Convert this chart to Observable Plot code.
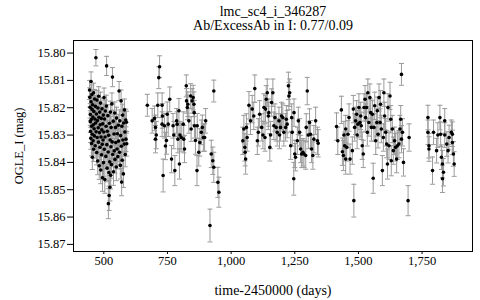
<!DOCTYPE html>
<html>
<head>
<meta charset="utf-8">
<script src="https://cdn.jsdelivr.net/npm/d3@7"></script>
<script src="https://cdn.jsdelivr.net/npm/@observablehq/plot@0.6"></script>
<style>
  html, body { margin: 0; padding: 0; background: white; }
</style>
</head>
<body>
<div id="chart"></div>
<script>
// Observations: [time-2450000, OGLE_I mag, error]
const season1 = [
[444,15.8135,.0035],[445,15.8162,.0035],[446,15.8198,.004],[447,15.8225,.004],[447,15.8251,.004],[448,15.8287,.004],[449,15.8312,.004],[450,15.8104,.0035],[450,15.8178,.004],[451,15.8243,.004],[452,15.8268,.004],[452,15.8331,.0045],[453,15.8152,.0035],[454,15.8206,.004],[455,15.8297,.004],[455,15.8381,.0045],[456,15.8189,.004],[457,15.8234,.004],[458,15.8321,.0045],[459,15.8262,.004],[460,15.8145,.0035],[460,15.8352,.0045],
[461,15.8214,.004],[462,15.8277,.004],[463,15.8303,.004],[464,15.8168,.0035],[465,15.8241,.004],[466,15.8339,.0045],[467,15.8195,.004],[468,15.8256,.004],[469,15.8017,.003],[470,15.8288,.004],[471,15.8223,.004],[472,15.8364,.0045],[473,15.8172,.0035],[474,15.8309,.004],[475,15.8247,.004],[476,15.8395,.005],[477,15.8201,.004],[478,15.8273,.004],[479,15.8326,.0045],[480,15.8158,.0035],
[481,15.8235,.004],[482,15.8412,.005],[483,15.8291,.004],[484,15.8216,.004],[485,15.8345,.0045],[486,15.8262,.004],[487,15.8183,.004],[488,15.8428,.005],[489,15.8307,.004],[490,15.8239,.004],[491,15.8372,.0045],[492,15.8281,.004],[493,15.8204,.004],[494,15.8334,.0045],[495,15.8456,.005],[496,15.8259,.004],[497,15.8318,.0045],[498,15.8227,.004],[499,15.8401,.005],[500,15.8289,.004],[501,15.8163,.0035],[502,15.8352,.0045],[503,15.8241,.004],[504,15.8463,.005],[505,15.8307,.004],
[506,15.8212,.004],[508,15.8378,.0045],[509,15.8268,.004],[510,15.8194,.004],[511,15.8047,.0035],[512,15.8335,.0045],[513,15.8421,.005],[514,15.8286,.004],[516,15.8229,.004],[517,15.8362,.0045],[518,15.8551,.0055],[519,15.8301,.004],[520,15.8437,.005],[521,15.8521,.0055],[522,15.8257,.004],[523,15.8398,.005],[524,15.8491,.005],[525,15.8318,.0045],[526,15.8216,.004],[527,15.8447,.005],[528,15.8343,.0045],[529,15.8272,.004],[530,15.8408,.005],
[532,15.8186,.004],[533,15.8325,.0045],[534,15.8088,.0035],[535,15.8371,.0045],[537,15.8249,.004],[538,15.8434,.005],[540,15.8296,.004],[541,15.8358,.0045],[543,15.8219,.004],[544,15.8389,.005],[546,15.8272,.004],[547,15.8327,.0045],[549,15.8417,.005],[550,15.8238,.004],[552,15.8351,.0045],[553,15.8295,.004],[555,15.8379,.0045],[557,15.8264,.004],[558,15.8322,.0045],[560,15.8139,.0035],
[562,15.8363,.0045],[563,15.8248,.004],[565,15.8411,.005],[566,15.8302,.004],[568,15.8175,.004],[569,15.8341,.0045],[570,15.8472,.005],[571,15.8268,.004],[572,15.8392,.005],[574,15.8227,.004],[575,15.8318,.0045],[577,15.8442,.005],[578,15.8256,.004],[580,15.8333,.0045],[581,15.8208,.004],[583,15.8289,.004],[584,15.8371,.0045],[586,15.8245,.004],[587,15.8315,.0045],[589,15.8253,.004],[590,15.8332,.0045]
];
const season2 = [
[671,15.8191,.004],[690,15.8248,.0045],[699,15.8239,.0045],[703,15.8272,.0045],[706,15.830,.005],[703,15.8315,.005],[712,15.8191,.0045],[719,15.805,.004],[716,15.809,.004],[729,15.8191,.0045],[730,15.823,.0045],[729,15.826,.0045],[738,15.8266,.0045],[746,15.832,.005],[742,15.834,.005],[733,15.8448,.006],[749,15.8224,.0045],[753,15.826,.0045],[759,15.8169,.0045],[766,15.8388,.005],[772,15.8266,.0045],[775,15.830,.005],[779,15.843,.0055],[786,15.8248,.0045],[788,15.826,.0045],[791,15.8315,.005],[795,15.8211,.0045],[799,15.830,.005],[797,15.8406,.0055],[804,15.8309,.005],[812,15.826,.0045],[814,15.8315,.005],[817,15.8351,.005],[824,15.812,.004],[825,15.8175,.0045],[830,15.8187,.0045],[828,15.8199,.0045],[834,15.8248,.0045],[841,15.8157,.0045],[843,15.8278,.0045],[847,15.8175,.0045],[851,15.8163,.0045],[854,15.8187,.0045],[855,15.8218,.0045],[856,15.8266,.0045],[860,15.832,.005],[867,15.8266,.0045],[866,15.843,.0055],[873,15.8363,.005],[877,15.8327,.005],[883,15.829,.0045],[887,15.8272,.0045],[891,15.8309,.005],[896,15.8309,.005],[900,15.8248,.0045],[932,15.8139,.004],[922,15.8369,.005],[928,15.8394,.005],[932,15.8418,.0055],[948,15.8473,.0055],[952,15.8509,.0055],[917,15.8631,.006]
];
const season3 = [
[1046,15.8321,.005],[1050,15.8278,.005],[1054,15.8345,.005],[1055,15.8363,.005],[1057,15.8388,.0055],[1060,15.8272,.005],[1063,15.8309,.005],[1070,15.8191,.005],[1076,15.8248,.005],[1083,15.8205,.005],[1089,15.823,.005],[1093,15.813,.005],[1103,15.8321,.005],[1107,15.829,.005],[1112,15.8224,.005],[1120,15.8272,.005],[1125,15.830,.005],[1129,15.8199,.005],[1133,15.8309,.005],[1135,15.8205,.005],[1138,15.8169,.005],[1142,15.8145,.005],[1146,15.823,.005],[1148,15.8218,.005],[1152,15.8345,.005],[1155,15.830,.005],[1159,15.8181,.005],[1164,15.8145,.005],[1168,15.8266,.005],[1172,15.8236,.005],[1177,15.8272,.005],[1181,15.829,.005],[1188,15.8248,.005],[1190,15.830,.005],[1194,15.8272,.005],[1198,15.823,.005],[1203,15.8236,.005],[1207,15.829,.005],[1214,15.8272,.005],[1217,15.8242,.005],[1220,15.826,.005],[1225,15.812,.005],[1227,15.8157,.005],[1230,15.8145,.005],[1234,15.8339,.005],[1238,15.8236,.005],[1240,15.829,.005],[1247,15.8218,.005],[1250,15.8369,.005],[1253,15.8381,.005],[1246,15.846,.006],[1260,15.8321,.005],[1264,15.8248,.005],[1269,15.829,.005],[1273,15.8351,.005],[1277,15.8369,.005],[1282,15.8363,.005],[1286,15.8369,.005],[1293,15.8375,.005],[1295,15.8272,.005],[1299,15.8139,.005],[1303,15.830,.005],[1308,15.8254,.005],[1312,15.8297,.005],[1316,15.8351,.005],[1321,15.8375,.005],[1325,15.8315,.005],[1332,15.8248,.005],[1339,15.8321,.005],[1342,15.833,.005]
];
const season4 = [
[1414,15.8269,.005],[1419,15.8321,.005],[1433,15.8208,.005],[1437,15.8361,.005],[1441,15.8375,.0055],[1443,15.830,.005],[1446,15.8339,.005],[1450,15.8278,.005],[1450,15.8388,.0055],[1454,15.8345,.005],[1459,15.8297,.005],[1463,15.8236,.005],[1467,15.8388,.0055],[1476,15.8357,.005],[1480,15.8205,.005],[1482,15.854,.006],[1485,15.8272,.005],[1489,15.8248,.005],[1493,15.8224,.005],[1495,15.830,.005],[1498,15.826,.005],[1502,15.8199,.005],[1506,15.8254,.005],[1509,15.823,.005],[1511,15.8266,.005],[1515,15.8339,.005],[1519,15.8369,.005],[1522,15.8199,.005],[1526,15.8169,.005],[1528,15.8236,.005],[1532,15.8199,.005],[1535,15.829,.005],[1537,15.8145,.005],[1541,15.8254,.005],[1545,15.8163,.005],[1548,15.8218,.005],[1551,15.8272,.005],[1555,15.8224,.005],[1558,15.8458,.0055],[1561,15.8272,.005],[1564,15.8193,.005],[1568,15.8321,.005],[1572,15.8254,.005],[1574,15.8211,.005],[1577,15.8297,.005],[1581,15.8163,.005],[1585,15.8254,.005],[1587,15.8187,.005],[1590,15.8278,.005],[1594,15.843,.0055],[1598,15.8309,.005],[1600,15.8145,.005],[1603,15.823,.005],[1607,15.829,.005],[1611,15.8333,.005],[1614,15.8406,.0055],[1616,15.8199,.005],[1620,15.8339,.005],[1624,15.8157,.005],[1627,15.8242,.005],[1629,15.8394,.0055],[1633,15.8278,.005],[1637,15.8357,.005],[1642,15.8321,.005],[1646,15.8345,.005],[1650,15.8388,.005],[1653,15.8339,.005],[1659,15.8333,.005],[1663,15.8278,.005],[1669,15.8078,.004],[1666,15.8242,.005],[1669,15.8315,.005],[1673,15.829,.005],[1677,15.840,.005],[1695,15.854,.0055],[1699,15.8309,.005]
];
const season5 = [
[1773,15.8236,.0045],[1773,15.829,.0045],[1777,15.8339,.0045],[1777,15.8351,.0045],[1791,15.843,.005],[1795,15.829,.0045],[1807,15.8357,.0045],[1812,15.830,.0045],[1820,15.8236,.0045],[1823,15.8297,.0045],[1826,15.8381,.0045],[1830,15.8406,.005],[1830,15.846,.005],[1834,15.8436,.005],[1839,15.8248,.0045],[1839,15.830,.0045],[1847,15.8333,.0045],[1852,15.8357,.0045],[1856,15.8309,.0045],[1865,15.829,.0045],[1869,15.8297,.0045],[1869,15.8327,.0045],[1873,15.8369,.0045],[1876,15.8406,.0045]
];
const xTicks = [500, 750, 1000, 1250, 1500, 1750];
const yTicks = [15.80, 15.81, 15.82, 15.83, 15.84, 15.85, 15.86, 15.87];
const titleText = "lmc_sc4_i_346287";
const subtitleText = "Ab/ExcessAb in I: 0.77/0.09";

const data = [...season1, ...season2, ...season3, ...season4, ...season5]
  .map(([t, mag, err]) => ({t, mag, err}));

// pick an installed Times-like serif font
function hasFont(name) {
  const c = document.createElement("canvas").getContext("2d");
  const s = "mmmmmmmmmmlli1234567890WQ";
  const out = [];
  for (const base of ["monospace", "sans-serif"]) {
    c.font = `72px ${base}`;
    const w0 = c.measureText(s).width;
    c.font = `72px "${name}", ${base}`;
    out.push(c.measureText(s).width !== w0);
  }
  return out[0] || out[1];
}
const candidates = ["Liberation Serif", "Tinos", "Times New Roman", "Nimbus Roman", "Nimbus Roman No9 L", "FreeSerif", "Noto Serif", "DejaVu Serif"];
const serif = candidates.find(hasFont) || "serif";
const fontFamily = `"${serif}", serif`;

const cap = {draw(ctx) { ctx.moveTo(-2.5, 0); ctx.lineTo(2.5, 0); }};

const chart = Plot.plot({
  width: 480,
  height: 300,
  marginLeft: 73,
  marginRight: 8,
  marginTop: 40,
  marginBottom: 49,
  style: {fontFamily, fontSize: "12.5px", background: "white", color: "black"},
  x: {domain: [381, 1948]},
  y: {domain: [15.7954, 15.8726], reverse: true},
  marks: [
    Plot.ruleX(data, {x: "t", y1: d => d.mag - d.err, y2: d => d.mag + d.err, stroke: "#9a9a9a", strokeWidth: 1}),
    Plot.dot(data, {x: "t", y: d => d.mag - d.err, symbol: cap, fill: "none", stroke: "#9a9a9a", strokeWidth: 1}),
    Plot.dot(data, {x: "t", y: d => d.mag + d.err, symbol: cap, fill: "none", stroke: "#9a9a9a", strokeWidth: 1}),
    Plot.dot(data, {x: "t", y: "mag", r: 1.8, fill: "black", stroke: "none"}),
    Plot.frame({stroke: "black", strokeWidth: 1}),
    Plot.axisX({ticks: xTicks, tickFormat: d3.format(","), tickSize: 3, tickPadding: 2, fill: "black", stroke: "black", fontSize: 12.5, label: null}),
    Plot.axisX({ticks: [], label: "time-2450000 (days)", labelAnchor: "center", labelArrow: "none", labelOffset: 43, fill: "black", fontSize: 14}),
    Plot.axisY({ticks: yTicks, tickFormat: d3.format(".2f"), tickSize: 6, tickPadding: 2, fill: "black", stroke: "black", fontSize: 12.5,
      label: "OGLE_I (mag)", labelAnchor: "center", labelArrow: "none", labelOffset: 59}),
    Plot.text([titleText], {frameAnchor: "top", text: d => d, dy: -28.5, lineAnchor: "middle", fill: "black", fontSize: 14}),
    Plot.text([subtitleText], {frameAnchor: "top", text: d => d, dy: -14.5, lineAnchor: "middle", fill: "black", fontSize: 14})
  ]
});
document.getElementById("chart").appendChild(chart);
</script>
</body>
</html>
